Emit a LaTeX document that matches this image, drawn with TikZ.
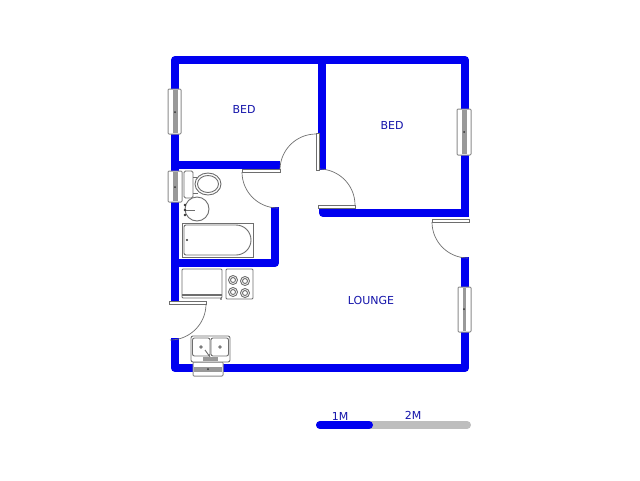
\documentclass[tikz,border=0pt]{standalone}
\usepackage{fontspec}
\setmainfont{DejaVu Sans}
\usepackage{xcolor}
\usepackage{tikz}
\usetikzlibrary{positioning}
\definecolor{wallblue}{RGB}{0,0,240}
\definecolor{labelblue}{RGB}{20,20,170}
\definecolor{linegray}{RGB}{110,110,110}
\definecolor{bargray}{RGB}{190,190,190}
\tikzset{
  wall/.style={draw=wallblue, line width=8pt, line join=round},
  fixture/.style={draw=linegray, line width=0.9pt, fill=white},
  doorleaf/.style={draw=linegray, line width=0.9pt, fill=white},
  swing/.style={draw=linegray, line width=0.7pt},
  glass/.style={draw=linegray!80, line width=1pt, fill=white, rounded corners=1pt},
  band/.style={fill=linegray!70, draw=none},
  pin/.style={fill=black!80, draw=none},
  roomlabel/.style={text=labelblue, font=\fontsize{11}{13}\selectfont, inner sep=0pt},
  barlabel/.style={text=labelblue, font=\fontsize{11}{13}\selectfont, inner sep=0pt},
  scalebar/.style={line width=8pt, line cap=round}
}
\begin{document}
\begin{tikzpicture}[x=1pt,y=-1pt]
  \useasboundingbox (0,0) rectangle (640,480);
  % walls
  \draw[wall] (175,301) -- (175,60) -- (465,60) -- (465,217);
  \draw[wall] (175,338) -- (175,368) -- (465,368) -- (465,257);
  \draw[wall] (175,165) -- (280,165);
  \draw[wall] (322,60) -- (322,170);
  \draw[wall] (323,207) -- (323,213) -- (465,213);
  \draw[wall] (175,263) -- (275,263) -- (275,207);
  % doors
  \draw[doorleaf] (242,169) rectangle (280,172);
  \draw[swing] (242,172) arc (180:90:36);
  \draw[doorleaf] (316,133) rectangle (319,170);
  \draw[swing] (316,134) arc (-90:-180:36);
  \draw[doorleaf] (318,205) rectangle (355,208);
  \draw[swing] (355,205) arc (0:-90:36);
  \draw[doorleaf] (432,219) rectangle (469,222);
  \draw[swing] (432,222) arc (180:90:36);
  \draw[doorleaf] (169,301) rectangle (206,304);
  \draw[swing] (206,304) arc (0:90:36);
  % windows
  \draw[glass] (168,89) rectangle (181,134);
  \fill[band] (172.5,90) rectangle (177.5,133);
  \fill[pin] (175,112) circle (1);
  \draw[glass] (168,171) rectangle (182,202);
  \fill[band] (172.5,172) rectangle (177.5,201);
  \fill[pin] (175,187) circle (1);
  \draw[glass] (457,109) rectangle (471,155);
  \fill[band] (461.5,110) rectangle (466.5,154);
  \fill[pin] (464,132) circle (1);
  \draw[glass] (458,287) rectangle (471,332);
  \fill[band] (463,288) rectangle (466,331);
  \fill[pin] (464,309) circle (1);
  \draw[glass] (193,362) rectangle (223,376);
  \fill[band] (194,366.5) rectangle (222,371.5);
  \fill[pin] (208,369) circle (1);
  % toilet and basin
  \draw[fixture, rounded corners=1.5pt] (184,171) rectangle (193,198);
  \draw[fixture] (193,177) -- (197,177) (193,193) -- (198,193);
  \draw[fixture] (208,184) ellipse (13 and 11);
  \draw[fixture] (208,184) ellipse (10.5 and 8.5);
  \draw[fixture] (197,209) circle (12);
  \fill[pin] (185,205) circle (1.3);
  \fill[pin] (185,210) circle (1.3);
  \fill[pin] (185,215) circle (1.3);
  \draw[fixture] (186,210) -- (195,210);
  % bath
  \draw[fixture] (182,223) rectangle (253,257);
  \draw[fixture] (186,225) -- (236,225) arc (-90:90:15) -- (186,255)
    arc (90:180:2) -- (184,227) arc (180:270:2);
  \fill[pin] (187,240) circle (1.2);
  % kitchen
  \draw[fixture, rounded corners=1pt] (182,269) rectangle (222,298);
  \draw[fixture, line width=1.1pt] (182,295) -- (222,295);
  \fill[pin] (221,299) circle (0.8);
  \draw[fixture, rounded corners=1pt] (226,269) rectangle (253,299);
  \foreach \bx/\by in {233/280, 245/281, 233/292, 245/293} {
    \draw[fixture] (\bx,\by) circle (4.5);
    \draw[fixture] (\bx,\by) circle (2.5);
  }
  \draw[fixture, rounded corners=2pt] (191,336) rectangle (230,362);
  \draw[fixture, rounded corners=2pt] (192.5,338) rectangle (210,356);
  \draw[fixture, rounded corners=2pt] (211,338) rectangle (228.5,356);
  \draw[fixture] (201,347) circle (1.2);
  \draw[fixture] (220,347) circle (1.2);
  \draw[fixture] (205,350) -- (210,357);
  \fill[band] (203,357) rectangle (218,360.5);
  % labels
  \node[roomlabel] (bedleft) at (244,109) {BED};
  \node[roomlabel] (bedright) at (392,125) {BED};
  \node[roomlabel] (lounge) at (371,300) {LOUNGE};
  % scale
  \draw[scalebar, draw=bargray] (320,425) -- (467,425);
  \draw[scalebar, draw=wallblue] (320,425) -- (369,425);
  \node[barlabel] (onem) at (340,416) {1M};
  \node[barlabel] (twom) at (413,415) {2M};
\end{tikzpicture}
\end{document}
